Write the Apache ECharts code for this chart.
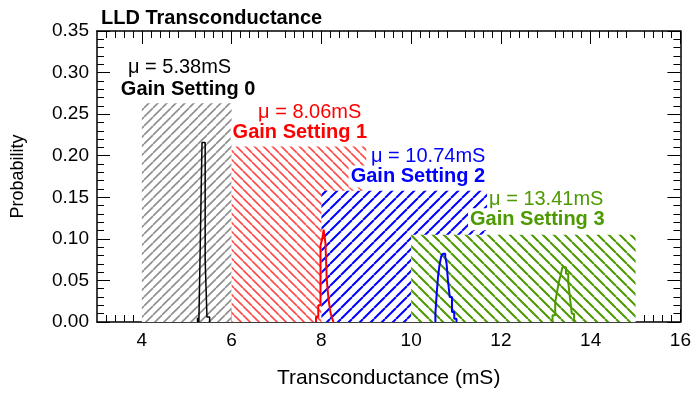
<!DOCTYPE html>
<html>
<head>
<meta charset="utf-8">
<title>LLD Transconductance</title>
<script src="https://cdn.jsdelivr.net/npm/echarts@6/dist/echarts.min.js"></script>
<style>
  html, body { margin: 0; padding: 0; background: #fff; }
  #chart { width: 694px; height: 394px; }
</style>
</head>
<body>
<div id="chart"></div>
<script>
// Gain settings and their measured mean transconductance (mS)
const gainNames = ['Gain Setting 0', 'Gain Setting 1', 'Gain Setting 2', 'Gain Setting 3'];
const gainMeans = [5.38, 8.06, 10.74, 13.41];

// Hatched range per gain setting: [start mS, end mS, height]
const rangeStart = [4, 6, 8, 10];
const rangeEnd = [6, 9, 11.75, 15];
const rangeHeight = [0.263, 0.211, 0.158, 0.105];

// Histogram outlines: [bin left edge (mS), probability]
const histGain0 = [[5.24, 0], [5.24, 0.005], [5.27, 0], [5.30, 0.09], [5.34, 0.216], [5.41, 0.075], [5.45, 0.006], [5.48, 0.006], [5.51, 0]];
const histGain1 = [[7.88, 0], [7.88, 0.006], [7.93, 0.02], [7.98, 0.092], [8.02, 0.1], [8.05, 0.111], [8.09, 0.095], [8.12, 0.05], [8.16, 0.027], [8.20, 0.012], [8.24, 0.004], [8.27, 0]];
const histGain2 = [[10.54, 0], [10.54, 0.01], [10.57, 0.035], [10.60, 0.055], [10.63, 0.068], [10.67, 0.079], [10.71, 0.082], [10.76, 0.078], [10.79, 0.07], [10.82, 0.05], [10.86, 0.03], [10.91, 0.012], [10.96, 0.004], [11.01, 0]];
const histGain3 = [[13.15, 0], [13.15, 0.008], [13.21, 0.024], [13.25, 0.036], [13.29, 0.048], [13.33, 0.056], [13.37, 0.066], [13.45, 0.058], [13.50, 0.048], [13.54, 0.028], [13.58, 0.01], [13.63, 0.003], [13.67, 0]];
const histograms = [histGain0, histGain1, histGain2, histGain3];

// Axis tick labels
const xTickLabels = [4, 6, 8, 10, 12, 14, 16];
const yTickLabels = [0, 0.05, 0.10, 0.15, 0.20, 0.25, 0.30, 0.35];

// Where each setting's annotation sits (data units): [x, y] for the mean line and the name line
const meanLabelAt = [[4.84, 0.306], [7.74, 0.252], [10.38, 0.199], [13.01, 0.147]];
const nameLabelAt = [[5.03, 0.280], [7.52, 0.228], [10.15, 0.175], [12.81, 0.1235]];

// Styling
const lineColors = ['#000000', '#ff0000', '#0000ff', '#4c9a00'];
const textColors = ['#000000', '#ff0000', '#0000ff', '#4c9a00'];
const hatchColors = ['#8e8e8e', '#ff4a4a', '#0000ff', '#4c9a00'];
const hatchSpacing = [9, 9, 11, 11];
const hatchWidth = [1.6, 1.6, 2, 2];
const hatchDir = ['/', '\\', '/', '\\'];
const FONT = '"Liberation Sans", Arial, sans-serif';

// Repeating diagonal-line tile used as a hatch fill
function makeHatch(color, s, w, dir) {
  const c = document.createElement('canvas');
  c.width = s; c.height = s;
  const g = c.getContext('2d');
  g.strokeStyle = color;
  g.lineWidth = w;
  g.beginPath();
  for (const o of [-s, 0, s]) {
    if (dir === '/') { g.moveTo(o, s); g.lineTo(o + s, 0); }
    else { g.moveTo(o, 0); g.lineTo(o + s, s); }
  }
  g.stroke();
  return { image: c, repeat: 'repeat' };
}

const chart = echarts.init(document.getElementById('chart'), null, { renderer: 'canvas' });

const series = [];
gainNames.forEach((name, i) => {
  const fill = makeHatch(hatchColors[i], hatchSpacing[i], hatchWidth[i], hatchDir[i]);
  series.push({
    type: 'custom',
    name: name,
    z: 2,
    silent: true,
    data: [[rangeStart[i], rangeEnd[i], rangeHeight[i]]],
    renderItem: function (params, api) {
      const p0 = api.coord([api.value(0), api.value(2)]);
      const p1 = api.coord([api.value(1), 0]);
      const m = api.coord(meanLabelAt[i]);
      const n = api.coord(nameLabelAt[i]);
      const box = { x: p0[0], y: p0[1], width: p1[0] - p0[0], height: p1[1] - p0[1] };
      return {
        type: 'group',
        children: [
          { type: 'rect', shape: box, style: { fill: '#fff' } },
          { type: 'rect', shape: box, style: { fill: fill } },
          {
            type: 'text',
            x: m[0], y: m[1],
            style: {
              text: '\u03bc = ' + gainMeans[i].toFixed(2) + 'mS',
              fill: textColors[i], font: '20px ' + FONT,
              align: 'center', verticalAlign: 'middle',
              backgroundColor: '#fff', padding: [1, 2]
            }
          },
          {
            type: 'text',
            x: n[0], y: n[1],
            style: {
              text: name,
              fill: textColors[i], font: 'bold 20px ' + FONT,
              align: 'center', verticalAlign: 'middle',
              backgroundColor: '#fff', padding: [1, 2]
            }
          }
        ]
      };
    }
  });
});

histograms.forEach((h, i) => {
  series.push({
    type: 'line',
    name: gainNames[i] + ' histogram',
    z: 5,
    step: 'end',
    symbol: 'none',
    silent: true,
    data: h,
    lineStyle: { color: lineColors[i], width: i === 0 ? 1.5 : 2 }
  });
});

const axisCommon = {
  type: 'value',
  axisLine: { show: true, onZero: false, lineStyle: { color: '#000', width: 1.5 } },
  splitLine: { show: false },
  axisTick: { show: true, inside: true, length: 13, lineStyle: { color: '#000', width: 1 } },
  minorTick: { show: true, splitNumber: 5, length: 7, lineStyle: { color: '#000', width: 1 } }
};

const option = {
  backgroundColor: '#fff',
  animation: false,
  title: {
    text: 'LLD Transconductance',
    left: 96, top: 3,
    textStyle: { fontFamily: FONT, fontSize: 20, fontWeight: 'bold', color: '#000' }
  },
  grid: { left: 97, right: 10, top: 31, bottom: 71 },
  xAxis: [
    Object.assign({}, axisCommon, {
      position: 'bottom', min: 3, max: 16, interval: 1,
      name: 'Transconductance (mS)', nameLocation: 'middle', nameGap: 46,
      nameTextStyle: { fontFamily: FONT, fontSize: 21, color: '#000' },
      axisTick: Object.assign({}, axisCommon.axisTick, { customValues: xTickLabels }),
      axisLabel: { customValues: xTickLabels, margin: 9, fontFamily: FONT, fontSize: 19, color: '#000' }
    }),
    Object.assign({}, axisCommon, {
      position: 'top', min: 3, max: 16, interval: 1,
      axisTick: Object.assign({}, axisCommon.axisTick, { customValues: xTickLabels }),
      axisLabel: { show: false }
    })
  ],
  yAxis: [
    Object.assign({}, axisCommon, {
      position: 'left', min: 0, max: 0.35, interval: 0.05,
      name: 'Probability', nameLocation: 'middle', nameGap: 70,
      nameTextStyle: { fontFamily: FONT, fontSize: 18, color: '#000' },
      axisLabel: {
        customValues: yTickLabels, margin: 8, fontFamily: FONT, fontSize: 19, color: '#000',
        formatter: v => v.toFixed(2)
      }
    }),
    Object.assign({}, axisCommon, {
      position: 'right', min: 0, max: 0.35, interval: 0.05,
      axisLabel: { show: false }
    })
  ],
  series: series
};

chart.setOption(option);
</script>
</body>
</html>
